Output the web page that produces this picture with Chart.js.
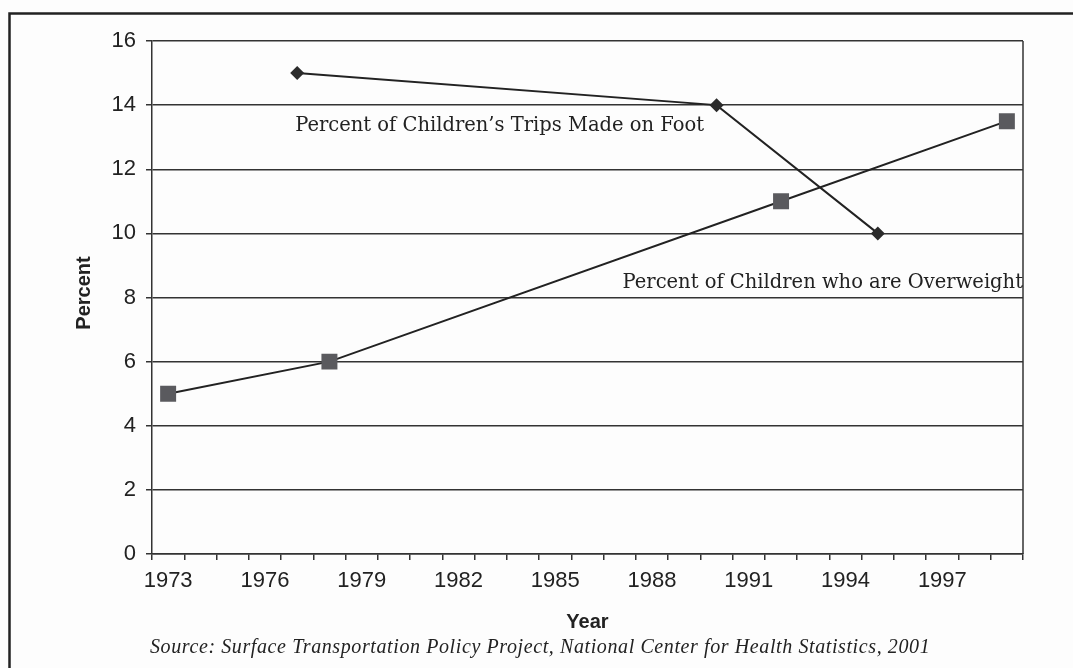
<!DOCTYPE html>
<html>
<head>
<meta charset="utf-8">
<title>Children walking vs overweight</title>
<script src="https://cdn.jsdelivr.net/npm/chart.js@4/dist/chart.umd.min.js"></script>
<style>
  html, body { margin: 0; padding: 0; background: #fdfdfd; }
  #wrap { position: relative; width: 1073px; height: 668px; }
</style>
</head>
<body>
<div id="wrap"><canvas id="chart" width="1073" height="668"></canvas></div>
<script>
// one category per year, labels every third year
const years = ['1973', '1974', '1975', '1976', '1977', '1978', '1979', '1980', '1981',
  '1982', '1983', '1984', '1985', '1986', '1987', '1988', '1989', '1990', '1991',
  '1992', '1993', '1994', '1995', '1996', '1997', '1998', '1999'];
const labelYears = ['1973', '1976', '1979', '1982', '1985', '1988', '1991', '1994', '1997'];

const walkYears = ['1977', '1990', '1995'];
const walkValues = [15, 14, 10];
const overweightYears = ['1973', '1978', '1992', '1999'];
const overweightValues = [5, 6, 11, 13.5];

const yTicks = [0, 2, 4, 6, 8, 10, 12, 14, 16];

const walkLabel = 'Percent of Children\u2019s Trips Made on Foot';
const overweightLabel = 'Percent of Children who are Overweight';
const sourceText = 'Source: Surface Transportation Policy Project, National Center for Health Statistics, 2001';

const ink = '#222';

// titles, annotations, frame
const extras = {
  id: 'extras',
  afterDraw(chart) {
    const { ctx, chartArea, scales } = chart;
    const x = scales.x, y = scales.y;
    ctx.save();

    // outer frame (only left and top visible)
    ctx.strokeStyle = ink;
    ctx.lineWidth = 2.5;
    ctx.beginPath();
    ctx.moveTo(9.5, 700);
    ctx.lineTo(9.5, 13.5);
    ctx.lineTo(1100, 13.5);
    ctx.stroke();

    // right edge of plot
    ctx.lineWidth = 1.5;
    ctx.strokeStyle = '#333';
    ctx.beginPath();
    ctx.moveTo(chartArea.right, chartArea.top);
    ctx.lineTo(chartArea.right, chartArea.bottom);
    ctx.stroke();

    ctx.fillStyle = ink;
    // series labels
    ctx.font = '19.5px "DejaVu Serif"';
    ctx.textBaseline = 'alphabetic';
    ctx.textAlign = 'left';
    ctx.fillText(walkLabel, x.getPixelForValue(years.indexOf('1977')) - 2, y.getPixelForValue(13.2));
    ctx.textAlign = 'right';
    ctx.fillText(overweightLabel, chartArea.right, y.getPixelForValue(8.3));

    // axis titles
    ctx.font = 'bold 20px "Liberation Sans"';
    ctx.textAlign = 'center';
    ctx.fillText('Year', (chartArea.left + chartArea.right) / 2, 628);
    ctx.save();
    ctx.translate(90, 293);
    ctx.rotate(-Math.PI / 2);
    ctx.fillText('Percent', 0, 0);
    ctx.restore();

    // source line
    ctx.font = 'italic 20px "Liberation Serif"';
    ctx.letterSpacing = '0.6px';
    ctx.textAlign = 'left';
    ctx.fillText(sourceText, 150, 653);
    ctx.restore();
  }
};

new Chart(document.getElementById('chart'), {
  type: 'line',
  data: {
    labels: years,
    datasets: [
      {
        label: walkLabel,
        data: walkYears.map((yr, i) => ({ x: yr, y: walkValues[i] })),
        borderColor: ink,
        borderWidth: 2,
        pointStyle: 'rectRot',
        pointRadius: 7,
        pointBackgroundColor: '#2b2b2b',
        pointBorderColor: '#2b2b2b',
        pointBorderWidth: 0,
        tension: 0
      },
      {
        label: overweightLabel,
        data: overweightYears.map((yr, i) => ({ x: yr, y: overweightValues[i] })),
        borderColor: ink,
        borderWidth: 2,
        pointStyle: 'rect',
        pointRadius: 11.3,
        pointBackgroundColor: '#5a5a5e',
        pointBorderColor: '#5a5a5e',
        pointBorderWidth: 0,
        tension: 0
      }
    ]
  },
  options: {
    responsive: false,
    animation: false,
    layout: { padding: { left: 0, top: 41, right: 50, bottom: 0 } },
    plugins: {
      legend: { display: false },
      tooltip: { enabled: false }
    },
    scales: {
      x: {
        type: 'category',
        offset: true,
        afterFit(scale) { scale.height = 114; },
        grid: {
          offset: true,
          drawOnChartArea: false,
          drawTicks: true,
          tickLength: 6,
          color: '#333',
          lineWidth: 1.5
        },
        border: { color: '#333', width: 1.5 },
        ticks: {
          autoSkip: false,
          maxRotation: 0,
          padding: 8,
          color: ink,
          font: { family: '"Liberation Sans"', size: 22 },
          callback(value) {
            const lbl = this.getLabelForValue(value);
            return labelYears.includes(lbl) ? lbl : '';
          }
        }
      },
      y: {
        min: 0,
        max: 16,
        afterFit(scale) { scale.width = 152; },
        afterBuildTicks(scale) { scale.ticks = yTicks.map(v => ({ value: v })); },
        grid: {
          color: '#333',
          lineWidth: 1.5,
          tickLength: 6
        },
        border: { color: '#333', width: 1.5 },
        ticks: {
          padding: 10,
          color: ink,
          font: { family: '"Liberation Sans"', size: 22 }
        }
      }
    }
  },
  plugins: [extras]
});
</script>
</body>
</html>
